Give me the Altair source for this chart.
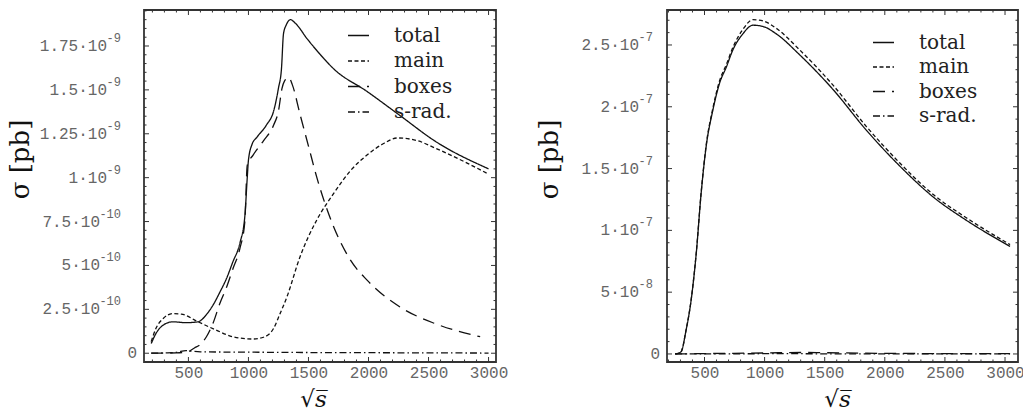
import altair as alt
import pandas as pd

# ---------------- data (left panel, sigma in units of 1e-10 pb) ----------------
L_names = ["total", "main", "boxes", "s-rad."]

L_total_x = [190, 230, 290, 370, 480, 580, 650, 710, 760, 820, 870, 930, 970, 990, 1000, 1030, 1070,
             1150, 1210, 1250, 1275, 1292, 1315, 1350, 1390, 1490, 1600, 1710, 1990, 2270, 2550, 3000]
L_total_y = [0.55, 1.13, 1.6, 1.79, 1.74, 1.79, 2.2, 2.8, 3.45, 4.3, 5.2, 6.3, 7.8, 10.0, 11.0, 11.9, 12.3,
             13.0, 13.8, 15.1, 16.2, 18.2, 18.7, 19.0, 18.8, 17.9, 17.0, 16.2, 14.9, 13.5, 12.1, 10.5]

L_main_x = [190, 230, 290, 370, 440, 580, 730, 870, 1040, 1125, 1210, 1260, 1320, 1430, 1570, 1710,
            1850, 1990, 2130, 2240, 2410, 2550, 2830, 3000]
L_main_y = [0.66, 1.42, 1.98, 2.26, 2.23, 1.79, 1.32, 0.94, 0.81, 0.91, 1.42, 2.2, 3.2, 5.5, 7.6, 9.1,
            10.4, 11.3, 11.96, 12.26, 12.1, 11.7, 10.8, 10.2]

L_boxes_x = [190, 400, 500, 550, 600, 650, 710, 760, 820, 870, 930, 970, 990, 1040, 1125, 1210, 1250,
             1280, 1300, 1335, 1365, 1430, 1500, 1570, 1670, 1850, 1990, 2270, 2550, 2930]
L_boxes_y = [0.0, 0.02, 0.1, 0.3, 0.5, 0.94, 1.8, 2.8, 3.8, 4.8, 6.0, 7.5, 10.7, 11.3, 12.1, 13.0, 13.8,
             15.1, 15.5, 15.7, 15.3, 13.6, 11.8, 10.0, 7.9, 5.3, 4.15, 2.6, 1.7, 0.94]

L_srad_x = [190, 300, 400, 480, 520, 600, 1000, 1500, 2000, 2500, 3000]
L_srad_y = [0.0, 0.02, 0.05, 0.15, 0.12, 0.08, 0.06, 0.04, 0.03, 0.02, 0.01]

# ---------------- data (right panel, sigma in units of 1e-8 pb) ----------------
R_x = [256, 292, 306, 347, 389, 431, 472, 514, 569, 625, 681, 736, 819, 903, 986, 1097, 1292, 1569,
       1847, 2125, 2403, 2681, 3042]
R_total_y = [0.0, 0.1, 0.19, 1.94, 4.37, 8.1, 13.0, 16.8, 19.7, 21.9, 23.2, 24.6, 25.9, 26.6, 26.5,
             25.9, 24.2, 21.4, 18.1, 15.2, 12.7, 10.8, 8.7]
R_main_y = [0.0, 0.1, 0.19, 1.94, 4.4, 8.15, 13.05, 16.9, 19.85, 22.1, 23.4, 24.8, 26.25, 27.05, 26.95,
            26.35, 24.6, 21.75, 18.4, 15.45, 12.9, 11.0, 8.85]
R_small_x = [256, 500, 1000, 1300, 1500, 2000, 2500, 3042]
R_boxes_y = [0.0, 0.03, 0.08, 0.12, 0.1, 0.05, 0.03, 0.02]
R_srad_y = [0.0, 0.0, 0.02, 0.02, 0.01, 0.0, 0.0, 0.0]

# ---------------- ticks / labels ----------------
X_major = [500, 1000, 1500, 2000, 2500, 3000]
X_minor = [v for v in range(200, 3100, 100) if v % 500 != 0]

L_y_major = [0, 2.5, 5, 7.5, 10, 12.5, 15, 17.5]
L_y_minor = [v / 2 for v in range(1, 40) if v % 5 != 0]
L_y_base = ["0", "2.5·10", "5·10", "7.5·10", "1·10", "1.25·10", "1.5·10", "1.75·10"]
L_y_exp = ["", "-10", "-10", "-10", "-9", "-9", "-9", "-9"]

R_y_major = [0, 5, 10, 15, 20, 25]
R_y_minor = [v for v in range(1, 28) if v % 5 != 0]
R_y_base = ["0", "5·10", "1·10", "1.5·10", "2·10", "2.5·10"]
R_y_exp = ["", "-8", "-7", "-7", "-7", "-7"]

DASHES = [[1, 0], [4, 2.5], [12, 7], [7, 3, 1.5, 3]]

W_L, W_R, H = 352, 351, 352
INK = "#111111"
LABEL_GRAY = "#666666"


def long_df(pairs):
    rows = []
    for name, xs, ys in pairs:
        for xv, yv in zip(xs, ys):
            rows.append({"x": xv, "y": yv, "series": name})
    return pd.DataFrame(rows)


def panel(df, xdom, ydom, width, ymaj, ymin, ybase, yexp, exp_right, leg_x, leg_y, leg_pad,
          title_x, ytitle_x):
    xs = alt.Scale(domain=xdom, nice=False, zero=False)
    ys = alt.Scale(domain=ydom, nice=False, zero=False)

    lines = alt.Chart(df).mark_line(color=INK, strokeWidth=1.3, interpolate="monotone").encode(
        x=alt.X("x:Q", scale=xs, axis=alt.Axis(
            values=X_major, format="d", ticks=False, domain=False, grid=False, labelPadding=2,
            labelFont="Liberation Mono", labelFontSize=16, labelColor=LABEL_GRAY,
            title="√s̅", titleFont="DejaVu Serif", titleFontSize=23, titleFontWeight="normal",
            titleFontStyle="italic", titleColor=INK, titleX=title_x, titleY=44,
            titleBaseline="alphabetic", titleAlign="center")),
        y=alt.Y("y:Q", scale=ys, axis=alt.Axis(
            labels=False, ticks=False, domain=False, grid=False,
            title="σ [pb]", titleFont="DejaVu Serif", titleFontSize=26, titleFontWeight="normal",
            titleColor=INK, titleX=ytitle_x, titleY=149,
            titleBaseline="middle", titleAlign="center", titleAngle=270)),
        strokeDash=alt.StrokeDash("series:N", scale=alt.Scale(domain=L_names, range=DASHES),
                                  legend=alt.Legend(orient="none", legendX=leg_x, legendY=leg_y,
                                                    title=None, symbolType="stroke", symbolSize=441,
                                                    symbolStrokeWidth=1.3, symbolStrokeColor=INK,
                                                    labelFont="DejaVu Serif", labelFontSize=20,
                                                    labelColor="#222222", labelOffset=24,
                                                    rowPadding=leg_pad, padding=0)),
    )

    def xticks(vals, length, top):
        d = pd.DataFrame({"x": vals})
        if top:
            enc = dict(y=alt.value(0), y2=alt.value(length))
        else:
            enc = dict(y=alt.value(H), y2=alt.value(H - length))
        return alt.Chart(d).mark_rule(color="#333333", strokeWidth=1).encode(
            x=alt.X("x:Q", scale=xs), **enc)

    def yticks(vals, length, right):
        d = pd.DataFrame({"y": vals})
        if right:
            enc = dict(x=alt.value(width), x2=alt.value(width - length))
        else:
            enc = dict(x=alt.value(0), x2=alt.value(length))
        return alt.Chart(d).mark_rule(color="#333333", strokeWidth=1).encode(
            y=alt.Y("y:Q", scale=ys), **enc)

    ticks = [xticks(X_major, 5, False), xticks(X_minor, 2.5, False),
             xticks(X_major, 5, True), xticks(X_minor, 2.5, True),
             yticks(ymaj, 5, False), yticks(ymin, 2.5, False),
             yticks(ymaj, 5, True), yticks(ymin, 2.5, True)]

    lab = pd.DataFrame({"y": ymaj, "base": ybase, "exp": yexp})
    lab["n"] = lab["exp"].str.len()
    base_txt = alt.Chart(lab)
    zero_lab = base_txt.transform_filter("datum.n == 0").mark_text(
        align="right", baseline="middle", font="Liberation Mono", fontSize=16, color=LABEL_GRAY
    ).encode(x=alt.value(-7), y=alt.Y("y:Q", scale=ys), text="base:N")
    base2 = base_txt.transform_filter("datum.n == 2").mark_text(
        align="right", baseline="middle", font="Liberation Mono", fontSize=16, color=LABEL_GRAY
    ).encode(x=alt.value(exp_right - 14), y=alt.Y("y:Q", scale=ys), text="base:N")
    base3 = base_txt.transform_filter("datum.n == 3").mark_text(
        align="right", baseline="middle", font="Liberation Mono", fontSize=16, color=LABEL_GRAY
    ).encode(x=alt.value(exp_right - 21), y=alt.Y("y:Q", scale=ys), text="base:N")
    exps = base_txt.transform_filter("datum.n > 0").mark_text(
        align="right", baseline="middle", font="Liberation Mono", fontSize=12, color=LABEL_GRAY, dy=-8
    ).encode(x=alt.value(exp_right), y=alt.Y("y:Q", scale=ys), text="exp:N")

    return alt.layer(lines, *ticks, zero_lab, base2, base3, exps).properties(width=width, height=H)


left_df = long_df([("total", L_total_x, L_total_y), ("main", L_main_x, L_main_y),
                   ("boxes", L_boxes_x, L_boxes_y), ("s-rad.", L_srad_x, L_srad_y)])
right_df = long_df([("total", R_x, R_total_y), ("main", R_x, R_main_y),
                    ("boxes", R_small_x, R_boxes_y), ("s-rad.", R_small_x, R_srad_y)])

left = panel(left_df, [130, 3062], [-0.5, 19.55], W_L, L_y_major, L_y_minor, L_y_base, L_y_exp,
             -23, 203, 14, 3.5, 169, -124)
right = panel(right_df, [188, 3108], [-0.65, 27.83], W_R, R_y_major, R_y_minor, R_y_base, R_y_exp,
              -14, 205, 21, 2.5, 170, -118)

chart = alt.hconcat(left, right, spacing=171, bounds="flush").resolve_scale(
    x="independent", y="independent", strokeDash="independent"
).resolve_legend(strokeDash="independent").properties(
    autosize=alt.AutoSizeParams(type="none"),
    padding={"left": 144, "top": 10, "right": 879, "bottom": 402},
).configure_view(stroke="#333333", strokeWidth=1.8)

chart.save("out.html", embed_options={"renderer": "svg", "actions": False})
